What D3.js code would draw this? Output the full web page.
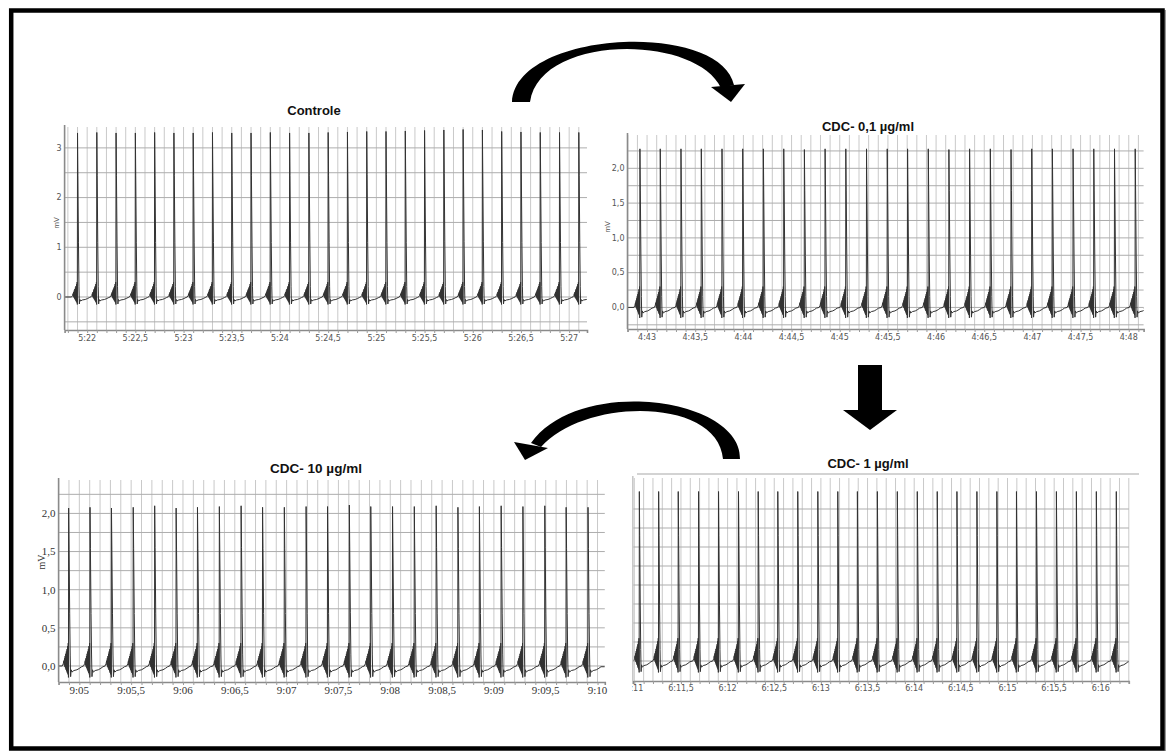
<!DOCTYPE html>
<html>
<head>
<meta charset="utf-8">
<script src="https://cdn.jsdelivr.net/npm/d3@7"></script>
<style>
  body { margin: 0; background: #fff; }
  svg { display: block; }
</style>
</head>
<body>
<div id="plot"></div>
<script>

// beat times (s after the first labelled tick) and spike heights (mV)
var controleTimes = [-0.10, 0.10, 0.30, 0.50, 0.70, 0.90, 1.10, 1.30, 1.50, 1.70, 1.90, 2.10, 2.30, 2.50,
                     2.70, 2.90, 3.10, 3.30, 3.50, 3.70, 3.90, 4.10, 4.30, 4.50, 4.70, 4.90, 5.10];
var controlePeaks = [3.30, 3.31, 3.30, 3.30, 3.31, 3.30, 3.30, 3.31, 3.30, 3.30, 3.31, 3.30, 3.30, 3.31,
                     3.32, 3.33, 3.33, 3.34, 3.35, 3.36, 3.37, 3.36, 3.33, 3.32, 3.31, 3.31, 3.31];

var cdc01Times = [-0.074, 0.137, 0.352, 0.563, 0.778, 0.993, 1.207, 1.419, 1.633, 1.848, 2.063, 2.278, 2.493,
                  2.704, 2.919, 3.133, 3.348, 3.563, 3.778, 3.993, 4.207, 4.422, 4.637, 4.852, 5.067];
var cdc01Peaks = [2.28, 2.28, 2.28, 2.28, 2.28, 2.28, 2.28, 2.28, 2.27, 2.28, 2.28, 2.28, 2.28,
                  2.28, 2.28, 2.27, 2.28, 2.28, 2.27, 2.28, 2.28, 2.28, 2.28, 2.28, 2.28];

var cdc1Times = [0.054, 0.261, 0.471, 0.689, 0.903, 1.117, 1.328, 1.538, 1.752, 1.967, 2.181, 2.391, 2.605,
                 2.819, 3.033, 3.247, 3.458, 3.672, 3.886, 4.096, 4.310, 4.524, 4.738, 4.952, 5.166];
var cdc1Peaks = [2.23, 2.23, 2.23, 2.23, 2.23, 2.23, 2.23, 2.23, 2.23, 2.23, 2.23, 2.23, 2.23,
                 2.23, 2.23, 2.23, 2.23, 2.23, 2.23, 2.23, 2.23, 2.23, 2.23, 2.23, 2.23];

var cdc10Times = [-0.103, 0.103, 0.310, 0.520, 0.727, 0.934, 1.140, 1.351, 1.561, 1.768, 1.978, 2.188, 2.395,
                  2.605, 2.812, 3.022, 3.232, 3.443, 3.653, 3.860, 4.070, 4.280, 4.491, 4.697, 4.908];
var cdc10Peaks = [2.07, 2.08, 2.07, 2.08, 2.10, 2.07, 2.08, 2.09, 2.10, 2.08, 2.08, 2.09, 2.09,
                  2.11, 2.09, 2.09, 2.09, 2.10, 2.08, 2.09, 2.10, 2.09, 2.10, 2.08, 2.08];

// one beat: time from the spike (s), mV, share of the spike height
var beatT = [-0.062, -0.052, -0.046, -0.043, -0.040, -0.037, -0.034, -0.031, -0.028, -0.025, -0.022, -0.019,
             -0.016, -0.013, -0.010, -0.007, -0.004, -0.002, 0.000, 0.004, 0.010, 0.015, 0.019, 0.024,
             0.032, 0.050, 0.080, 0.105, 0.125];
var beatV = [0.00, 0.03, 0.07, 0.01, 0.10, -0.01, 0.13, -0.03, 0.16, -0.05, 0.19, -0.07,
             0.22, -0.09, 0.26, -0.11, 0.30, -0.15, 0.00, 0.00, 0.00, 0.04, -0.14, -0.05,
             -0.08, -0.06, -0.05, -0.03, -0.01];
var beatP = [0, 0, 0, 0, 0, 0, 0, 0, 0, 0, 0, 0,
             0, 0, 0, 0, 0, 0, 1, 0.74, 0.33, 0.05, 0, 0,
             0, 0, 0, 0, 0];

// tick labels (one every 0.5 s) and mV ticks
var controleTicks = ["5:22", "5:22,5", "5:23", "5:23,5", "5:24", "5:24,5", "5:25", "5:25,5", "5:26", "5:26,5", "5:27"];
var cdc01Ticks = ["4:43", "4:43,5", "4:44", "4:44,5", "4:45", "4:45,5", "4:46", "4:46,5", "4:47", "4:47,5", "4:48"];
var cdc1Ticks = ["6:11", "6:11,5", "6:12", "6:12,5", "6:13", "6:13,5", "6:14", "6:14,5", "6:15", "6:15,5", "6:16"];
var cdc10Ticks = ["9:05", "9:05,5", "9:06", "9:06,5", "9:07", "9:07,5", "9:08", "9:08,5", "9:09", "9:09,5", "9:10"];

var controleY = [0, 1, 2, 3];
var controleYLabels = ["0", "1", "2", "3"];
var cdcY = [0, 0.5, 1, 1.5, 2];
var cdcYLabels = ["0,0", "0,5", "1,0", "1,5", "2,0"];

var controleGrid = [-0.5, 0, 0.5, 1, 1.5, 2, 2.5, 3];
var cdc01Grid = [-0.25, 0, 0.25, 0.5, 0.75, 1, 1.25, 1.5, 1.75, 2, 2.25];
var cdc10Grid = [0, 0.25, 0.5, 0.75, 1, 1.25, 1.5, 1.75, 2, 2.25];
var cdc1Grid = [0, 0.25, 0.5, 0.75, 1, 1.25, 1.5, 1.75, 2];

var titles = ["Controle", "CDC- 0,1 µg/ml", "CDC- 1 µg/ml", "CDC- 10 µg/ml"];

window.onload = function(){

    var svg = d3.select("#plot")
                .append("svg")
                .attr("width", 1166)
                .attr("height", 751);

    svg.append("rect")
        .attr("width", 1166)
        .attr("height", 751)
        .attr("fill", "#fff");

    buildPanel(svg, {
        id: "p1", title: titles[0], times: controleTimes, peaks: controlePeaks,
        ticks: controleTicks, yTicks: controleY, yLabels: controleYLabels, grid: controleGrid,
        x: [64.6, 587], t: [-0.234, 5.185], y: [330, 127], v: [-0.664, 3.42],
        titleX: 314, titleY: 115, titleSize: 13,
        tickSize: 8, tickFont: "DejaVu Sans", tickColor: "#555", labelY: 341,
        mvX: 59, mvY: 223, mvSize: 7
    });

    buildPanel(svg, {
        id: "p2", title: titles[1], times: cdc01Times, peaks: cdc01Peaks,
        ticks: cdc01Ticks, yTicks: cdcY, yLabels: cdcYLabels, grid: cdc01Grid,
        x: [627.5, 1143.6], t: [-0.203, 5.154], y: [329, 135], v: [-0.31, 2.479],
        titleX: 868, titleY: 131, titleSize: 13,
        tickSize: 8, tickFont: "DejaVu Sans", tickColor: "#555", labelY: 340,
        mvX: 610, mvY: 227, mvSize: 7
    });

    buildPanel(svg, {
        id: "p3", title: titles[3], times: cdc10Times, peaks: cdc10Peaks,
        ticks: cdc10Ticks, yTicks: cdcY, yLabels: cdcYLabels, grid: cdc10Grid,
        x: [58.6, 604.8], t: [-0.2, 5.07], y: [682, 480], v: [-0.21, 2.438],
        titleX: 316, titleY: 473, titleSize: 13.5,
        tickSize: 11, tickFont: "Liberation Sans Narrow", tickColor: "#333", labelY: 694,
        mvX: 45, mvY: 562, mvSize: 10
    });

    buildPanel(svg, {
        id: "p4", title: titles[2], times: cdc1Times, peaks: cdc1Peaks,
        ticks: cdc1Ticks, yTicks: [], yLabels: [], grid: cdc1Grid,
        x: [632.8, 1128.8], t: [-0.016, 5.30], y: [681, 478], v: [-0.263, 2.408],
        titleX: 868, titleY: 468, titleSize: 13,
        tickSize: 8, tickFont: "DejaVu Sans", tickColor: "#555", labelY: 691,
        clipLeft: 632, topLine: [637, 1139, 474]
    });

    drawArrows(svg);

    // frame round the whole figure
    svg.append("rect")
        .attr("x", 1164.5).attr("y", 10).attr("width", 1.5).attr("height", 741)
        .attr("fill", "#999");
    svg.append("rect")
        .attr("x", 11.2).attr("y", 10.5).attr("width", 1151.3).attr("height", 738)
        .attr("fill", "none")
        .attr("stroke", "#000")
        .attr("stroke-width", 4.5);

};

function buildTrace(times, peaks, domain){

    var pts = [[domain[0], 0]];

    times.forEach((tb, i) => {

        beatT.forEach((dt, j) => {

            pts.push([tb + dt, beatV[j] + beatP[j] * peaks[i]]);

        });

    });

    pts.push([domain[1], pts[pts.length - 1][1]]);

    return pts.filter(p => p[0] >= domain[0]);

}

function buildPanel(svg, cfg){

    var xScale = d3.scaleLinear()
    .domain(cfg.t)
    .range(cfg.x);

    var yScale = d3.scaleLinear()
    .domain(cfg.v)
    .range(cfg.y);

    var g = svg.append("g");

    if(cfg.clipLeft){

        svg.append("clipPath")
            .attr("id", "cut-" + cfg.id)
            .append("rect")
            .attr("x", cfg.clipLeft).attr("y", 0)
            .attr("width", 1166).attr("height", 751);

        g.attr("clip-path", "url(#cut-" + cfg.id + ")");

    }

    svg.append("clipPath")
        .attr("id", "clip-" + cfg.id)
        .append("rect")
        .attr("x", cfg.x[0])
        .attr("y", cfg.y[1] - 4)
        .attr("width", cfg.x[1] - cfg.x[0])
        .attr("height", cfg.y[0] - cfg.y[1] + 4);

    // vertical grid, every 0.1 s
    var vLines = d3.range(Math.ceil(cfg.t[0] * 10), Math.floor(cfg.t[1] * 10) + 1).map(k => k / 10);

    g.append("g")
        .selectAll("line")
        .data(vLines)
        .enter()
        .append("line")
        .attr("x1", d => xScale(d))
        .attr("x2", d => xScale(d))
        .attr("y1", cfg.y[1])
        .attr("y2", cfg.y[0])
        .style("stroke", "#c9c9c9")
        .style("stroke-width", 1);

    g.append("g")
        .selectAll("line")
        .data(cfg.grid)
        .enter()
        .append("line")
        .attr("x1", cfg.x[0])
        .attr("x2", cfg.x[1])
        .attr("y1", d => yScale(d))
        .attr("y2", d => yScale(d))
        .style("stroke", "#adadad")
        .style("stroke-width", 1);

    if(cfg.topLine){

        g.append("line")
            .attr("x1", cfg.topLine[0]).attr("x2", cfg.topLine[1])
            .attr("y1", cfg.topLine[2]).attr("y2", cfg.topLine[2])
            .style("stroke", "#c4c4c4")
            .style("stroke-width", 1.5);

    }

    // the recording
    var line = d3.line()
    .x(d => xScale(d[0]))
    .y(d => yScale(d[1]));

    g.append("path")
        .datum(buildTrace(cfg.times, cfg.peaks, cfg.t))
        .attr("clip-path", "url(#clip-" + cfg.id + ")")
        .attr("d", line)
        .style("fill", "none")
        .style("stroke", "#333")
        .style("stroke-width", 1)
        .style("stroke-linejoin", "round");

    // axes
    var xAxis = d3.axisBottom(xScale)
    .tickValues(vLines)
    .tickSize(3)
    .tickFormat("");

    var ax = g.append("g")
        .attr("transform", "translate(0," + cfg.y[0] + ")")
        .call(xAxis);

    ax.select(".domain").style("stroke", "#8a8a8a").style("stroke-width", 1.6);
    ax.selectAll(".tick line").style("stroke", "#9a9a9a");

    g.append("line")
        .attr("x1", cfg.x[0]).attr("x2", cfg.x[0])
        .attr("y1", cfg.y[1] - 2).attr("y2", cfg.y[0])
        .style("stroke", cfg.yTicks.length ? "#8a8a8a" : "#c8c8c8")
        .style("stroke-width", 1.6);

    g.append("g")
        .selectAll("text")
        .data(cfg.ticks)
        .enter()
        .append("text")
        .attr("x", (d, i) => xScale(i * 0.5))
        .attr("y", cfg.labelY)
        .attr("text-anchor", "middle")
        .style("font-family", cfg.tickFont)
        .style("font-size", cfg.tickSize + "px")
        .style("fill", cfg.tickColor)
        .text(d => d);

    g.append("g")
        .selectAll("text")
        .data(cfg.yTicks)
        .enter()
        .append("text")
        .attr("x", cfg.x[0] - 3)
        .attr("y", d => yScale(d) + cfg.tickSize * 0.35)
        .attr("text-anchor", "end")
        .style("font-family", cfg.tickFont)
        .style("font-size", cfg.tickSize + "px")
        .style("fill", cfg.tickColor)
        .text((d, i) => cfg.yLabels[i]);

    if(cfg.mvX){

        g.append("text")
            .attr("transform", "translate(" + cfg.mvX + "," + cfg.mvY + ") rotate(-90)")
            .attr("text-anchor", "middle")
            .style("font-family", cfg.tickFont)
            .style("font-size", cfg.mvSize + "px")
            .style("fill", cfg.tickColor)
            .text("mV");

    }

    svg.append("text")
        .attr("x", cfg.titleX)
        .attr("y", cfg.titleY)
        .attr("text-anchor", "middle")
        .style("font-family", "Liberation Sans, Arial, sans-serif")
        .style("font-weight", "bold")
        .style("font-size", cfg.titleSize + "px")
        .style("fill", "#111")
        .text(cfg.title);

}

function drawArrows(svg){

    var arrows = svg.append("g").style("fill", "#000");

    // Controle -> 0,1
    var p = d3.path();
    p.moveTo(512, 102);
    p.bezierCurveTo(515, 30, 720, 20, 734, 85);
    p.lineTo(721, 88);
    p.bezierCurveTo(695, 34, 540, 34, 530, 102);
    p.closePath();
    arrows.append("path").attr("d", p.toString());
    arrows.append("path").attr("d", "M711,87L745,84L731,102Z");

    // 0,1 -> 1
    arrows.append("rect").attr("x", 858).attr("y", 365).attr("width", 24).attr("height", 46);
    arrows.append("path").attr("d", "M843,410L897,410L870,430Z");

    // 1 -> 10
    var q = d3.path();
    q.moveTo(740, 459);
    q.bezierCurveTo(742, 398, 580, 375, 531, 443);
    q.lineTo(541, 447);
    q.bezierCurveTo(585, 397, 718, 397, 723, 459);
    q.closePath();
    arrows.append("path").attr("d", q.toString());
    arrows.append("path").attr("d", "M514,442L548,448L525,460Z");

}

</script>
</body>
</html>
